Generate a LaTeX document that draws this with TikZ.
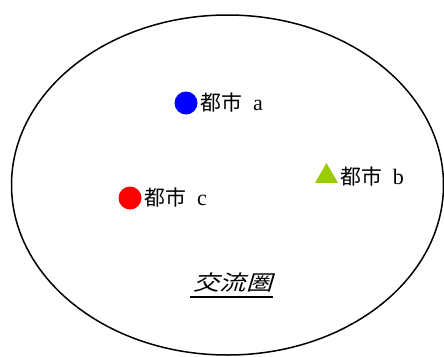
\documentclass[tikz,border=0pt]{standalone}
\usepackage{fontspec}
\setmainfont{Liberation Serif}
\newfontfamily\jpfont{Noto Sans CJK JP}[Scale=0.95]
\newfontfamily\jpslfont[FakeSlant=0.3,FakeStretch=1.25]{Noto Sans CJK JP}
\usetikzlibrary{positioning,shapes.geometric}
\definecolor{cityacolor}{HTML}{0000FF}
\definecolor{citybcolor}{HTML}{99CC00}
\definecolor{cityccolor}{HTML}{FF0000}
\tikzset{
  zone line/.style={draw=black,line width=1.5pt},
  city dot/.style={circle,inner sep=0pt,minimum size=23pt},
  city tri/.style={regular polygon,regular polygon sides=3,inner sep=0pt,minimum size=26.5pt},
  city label/.style={inner sep=0pt,font=\fontsize{22}{24}\selectfont}
}

\begin{document}
\begin{tikzpicture}[x=1pt,y=-1pt]
  \useasboundingbox (0,0) rectangle (444,356);
  \draw[zone line] (227.5,185) ellipse [x radius=216pt,y radius=170pt];
  % cities
  \node[city dot,fill=cityacolor] (dota) at (186,103) {};
  \node[city label,right=3pt of dota] (citya) {{\jpfont 都市}\hspace{5pt} a};
  \node[city tri,fill=citybcolor] (trib) at (326.5,176.3) {};
  \node[city label,right=6pt of trib] (cityb) {{\jpfont 都市}\hspace{5pt} b};
  \node[city dot,fill=cityccolor] (dotc) at (130,198) {};
  \node[city label,right=3pt of dotc] (cityc) {{\jpfont 都市}\hspace{5pt} c};
  % zone name
  \node[inner sep=0pt,font=\fontsize{21}{23}\selectfont] (zone) at (233,283) {\jpslfont 交流圏};
  \draw[line width=1.8pt] ([xshift=-3pt,yshift=-4pt]zone.south west) -- ([yshift=-4pt]zone.south east);
\end{tikzpicture}
\end{document}
